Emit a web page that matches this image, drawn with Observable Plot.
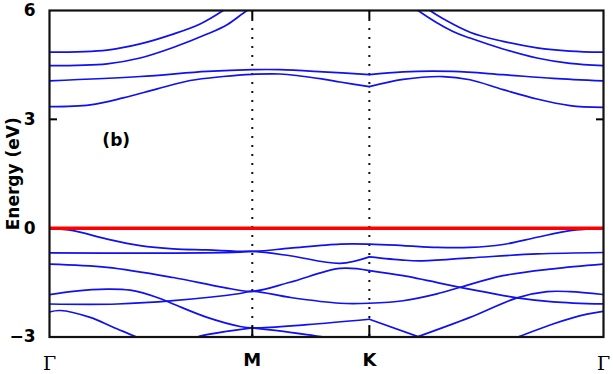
<!DOCTYPE html>
<html><head><meta charset="utf-8">
<script src="https://cdn.jsdelivr.net/npm/d3@7"></script>
<script src="https://cdn.jsdelivr.net/npm/@observablehq/plot@0.6"></script>
<style>body{margin:0;background:#fff;} svg{display:block}</style>
</head><body><div id="chart"></div>
<script>
// high-symmetry path (hexagonal BZ): Γ – M – K – Γ
const kPoints = [0, 0.5774, 0.9107, 1.5774];
const kLabels = ["Γ", "M", "K", "Γ"];
const yTicks = [-3, 0, 3, 6];
const fermiLevel = [0];
const panelLabel = [{k: 0.19, E: 2.41, text: "(b)"}];

// conduction bands  [k, E(eV)]
const c1a = [[0,3.35],[0.1158,3.40],[0.2097,3.59],[0.3065,3.84],[0.4004,4.07],[0.4944,4.18],[0.5774,4.24],[0.6562,4.25],[0.7789,4.11],[0.8273,4.03],[0.9107,3.90]];
const c1b = [[0.9107,3.90],[1.0066,4.10],[1.1204,4.18],[1.1973,4.09],[1.2913,3.82],[1.3880,3.56],[1.4820,3.38],[1.5774,3.33]];
const c2a = [[0,4.06],[0.2581,4.18],[0.4488,4.32],[0.5774,4.37],[0.6562,4.37],[0.7789,4.31],[0.9107,4.23]];
const c2b = [[0.9107,4.23],[1.0066,4.31],[1.1489,4.32],[1.2913,4.23],[1.4336,4.13],[1.5774,4.06]];
const c3a = [[0,4.48],[0.1642,4.53],[0.2581,4.69],[0.3520,4.98],[0.4488,5.35],[0.5057,5.61],[0.5627,6.0],[0.60,6.2]];
const c3b = [[1.03,6.15],[1.0493,6.0],[1.1489,5.42],[1.1973,5.24],[1.2913,4.94],[1.3880,4.69],[1.4820,4.54],[1.5774,4.48]];
const c4a = [[0,4.85],[0.1642,4.91],[0.2581,5.08],[0.3520,5.35],[0.4289,5.63],[0.4944,6.0],[0.53,6.25]];
const c4b = [[1.06,6.2],[1.0834,6.0],[1.1973,5.40],[1.2913,5.15],[1.3880,4.97],[1.4820,4.88],[1.5774,4.85]];

// valence bands  [k, E(eV)]
const v1 = [[0,0],[0.0675,-0.07],[0.1642,-0.30],[0.2581,-0.48],[0.3520,-0.57],[0.4488,-0.60],[0.5774,-0.64],[0.6850,-0.55],[0.8273,-0.44],[0.9107,-0.44],[1.0066,-0.48],[1.1034,-0.53],[1.1973,-0.53],[1.2913,-0.45],[1.3880,-0.25],[1.4820,-0.07],[1.5774,0]];
const v2a = [[0,-0.68],[0.2581,-0.69],[0.5427,-0.66],[0.5774,-0.64],[0.6850,-0.76],[0.8273,-0.97],[0.9107,-0.79]];
const v2b = [[0.9107,-0.79],[1.0066,-0.88],[1.0550,-0.90],[1.1973,-0.82],[1.3880,-0.71],[1.5774,-0.67]];
const v3a = [[0,-0.99],[0.1642,-1.08],[0.3520,-1.36],[0.4944,-1.63],[0.5774,-1.74],[0.6850,-1.49],[0.8273,-1.11],[0.9107,-1.17]];
const v3b = [[0.9107,-1.17],[1.0066,-1.31],[1.1689,-1.63],[1.2457,-1.77],[1.3311,-1.92],[1.4336,-2.03],[1.5774,-2.09]];
const v4a = [[0,-2.09],[0.1927,-2.09],[0.3520,-2.00],[0.5427,-1.80],[0.5774,-1.74],[0.6850,-1.91],[0.8273,-2.07],[0.9107,-2.07]];
const v4b = [[0.9107,-2.07],[1.0066,-2.00],[1.1034,-1.81],[1.1689,-1.63],[1.2913,-1.31],[1.4336,-1.12],[1.5774,-0.99]];
const v5a = [[0,-1.83],[0.0675,-1.74],[0.1642,-1.68],[0.2297,-1.71],[0.3065,-1.91],[0.3520,-2.09],[0.4488,-2.46],[0.5427,-2.71],[0.5774,-2.75],[0.7334,-2.66],[0.9107,-2.51]];
const v5b = [[0.9107,-2.51],[1.0493,-2.99]];
const v5c = [[1.0493,-2.99],[1.1973,-2.46],[1.3311,-1.92],[1.4165,-1.75],[1.4820,-1.75],[1.5774,-1.83]];
const v6 = [[0,-2.31],[0.0305,-2.27],[0.1158,-2.46],[0.1813,-2.73],[0.2496,-3.01],[0.27,-3.1]];
const v7a = [[0.40,-3.1],[0.4204,-3.0],[0.5774,-2.75]];
const v7b = [[0.5774,-2.75],[0.6850,-2.87],[0.7789,-3.0],[0.80,-3.05]];
const v8 = [[1.31,-3.08],[1.3340,-3.0],[1.4336,-2.64],[1.5304,-2.37],[1.5774,-2.29]];

const bandList = {c1a, c1b, c2a, c2b, c3a, c3b, c4a, c4b, v1, v2a, v2b, v3a, v3b, v4a, v4b, v5a, v5b, v5c, v6, v7a, v7b, v8};
const rows = Object.entries(bandList).flatMap(([id, pts]) => pts.map(([k, E]) => ({id, k, E})));
const straight = new Set(["v5b"]);

const font = "DejaVu Sans";
const chart = Plot.plot({
  width: 613, height: 374,
  marginLeft: 49, marginRight: 10, marginTop: 10, marginBottom: 37.5,
  style: {fontFamily: font, background: "#fff", color: "#000"},
  x: {domain: [kPoints[0], kPoints[3]]},
  y: {domain: [-3, 6]},
  marks: [
    Plot.ruleX(kPoints.slice(1, 3), {stroke: "#111", strokeWidth: 2, strokeDasharray: "2,7"}),
    Plot.line(rows.filter(d => !straight.has(d.id)), {x: "k", y: "E", z: "id", stroke: "#1010f0", strokeWidth: 1.7, curve: "catmull-rom", clip: true}),
    Plot.line(rows.filter(d => straight.has(d.id)), {x: "k", y: "E", z: "id", stroke: "#1010f0", strokeWidth: 1.7, clip: true}),
    Plot.ruleY(fermiLevel, {stroke: "#ff0000", strokeWidth: 3.5}),
    Plot.text(panelLabel, {x: "k", y: "E", text: "text", fontSize: 17, fontWeight: "bold", fill: "#000"}),
    Plot.axisY({ticks: yTicks, tickSize: 0, tickPadding: 14, fontSize: 17, fontWeight: "bold", label: "Energy (eV)", labelAnchor: "center", labelArrow: "none", labelOffset: 43}),
    Plot.axisY({ticks: [3], anchor: "left", tickSize: -8, strokeWidth: 2, tickFormat: () => "", label: null}),
    Plot.axisY({ticks: [3], anchor: "right", tickSize: -8, strokeWidth: 2, tickFormat: () => "", label: null}),
    Plot.axisX({ticks: kPoints.slice(1, 3), tickSize: 0, tickPadding: 16, fontSize: 18, fontWeight: "bold", tickFormat: (d, i) => kLabels[i + 1], label: null}),
    Plot.axisX({ticks: [kPoints[0], kPoints[3]], tickSize: 0, tickPadding: 19, fontSize: 19, fontFamily: "DejaVu Serif", fontWeight: "normal", tickFormat: () => kLabels[0], label: null}),
    Plot.axisX({ticks: kPoints.slice(1, 3), anchor: "bottom", tickSize: -10, strokeWidth: 2, tickFormat: () => "", label: null}),
    Plot.axisX({ticks: kPoints.slice(1, 3), anchor: "top", tickSize: -8, strokeWidth: 2, tickFormat: () => "", label: null}),
    Plot.frame({stroke: "#111", strokeWidth: 2.2})
  ]
});
document.getElementById("chart").appendChild(chart);
</script>
</body></html>
